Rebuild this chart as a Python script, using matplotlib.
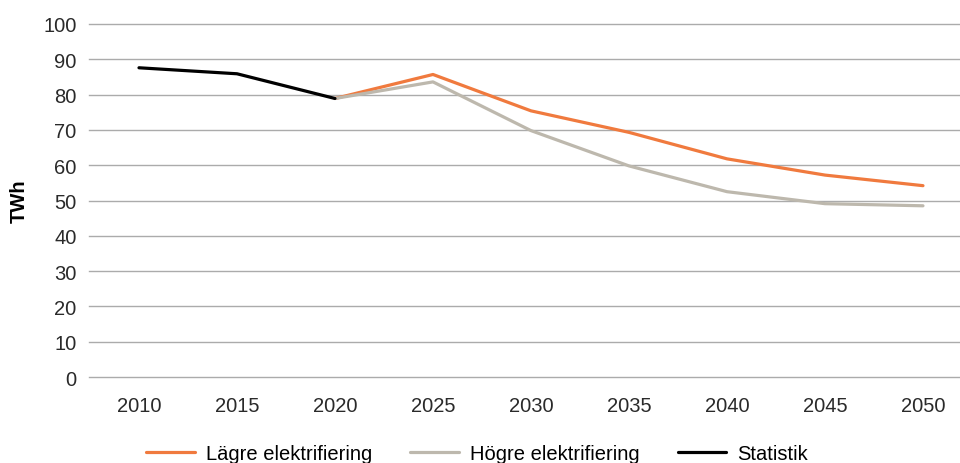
import matplotlib
matplotlib.use("Agg")
import matplotlib.pyplot as plt

# data
years = ['2010', '2015', '2020', '2025', '2030', '2035', '2040', '2045', '2050']
statistik = [87.6, 85.9, 78.9]
lagre = [78.9, 85.7, 75.4, 69.3, 61.8, 57.2, 54.2]
hogre = [78.9, 83.6, 69.8, 59.8, 52.5, 49.1, 48.5]

plt.rcParams['font.family'] = ['Liberation Sans', 'DejaVu Sans']

fig = plt.figure(figsize=(9.6, 4.64), dpi=100)
ax = fig.add_axes([89 / 960, 1 - 378 / 464, 1 - 89 / 960, (378 - 25) / 464])

x_all = list(range(len(years)))
ax.plot(x_all[2:], lagre, color='#F07A3E', lw=2.3, label='Lägre elektrifiering', solid_capstyle='round')
ax.plot(x_all[2:], hogre, color='#BDB8AD', lw=2.3, label='Högre elektrifiering', solid_capstyle='round')
ax.plot(x_all[:3], statistik, color='black', lw=2.3, label='Statistik', solid_capstyle='round')

ax.set_ylim(0, 100)
ax.set_xlim(-0.51, -0.51 + 871 / 98)
ax.set_yticks(range(0, 101, 10))
ax.set_xticks(x_all)
ax.set_xticklabels(years)
ax.grid(axis='y', color='#ABABAB', lw=1)
for gl in ax.get_ygridlines():
    gl.set_clip_on(False)
ax.set_axisbelow(True)
for s in ax.spines.values():
    s.set_visible(False)
ax.tick_params(length=0, labelsize=14.5, colors='#2a2a2a')
ax.tick_params(axis='x', pad=14)
ax.tick_params(axis='y', pad=9)
ax.set_ylabel('TWh', fontsize=14.5, fontweight='bold', labelpad=10)

fig.legend(loc='center', bbox_to_anchor=(0.497, 1 - 455 / 464), ncol=3, frameon=False,
           fontsize=14.5, handlelength=2.4, columnspacing=1.9, handletextpad=0.55)

fig.savefig('out.png', dpi=100)
